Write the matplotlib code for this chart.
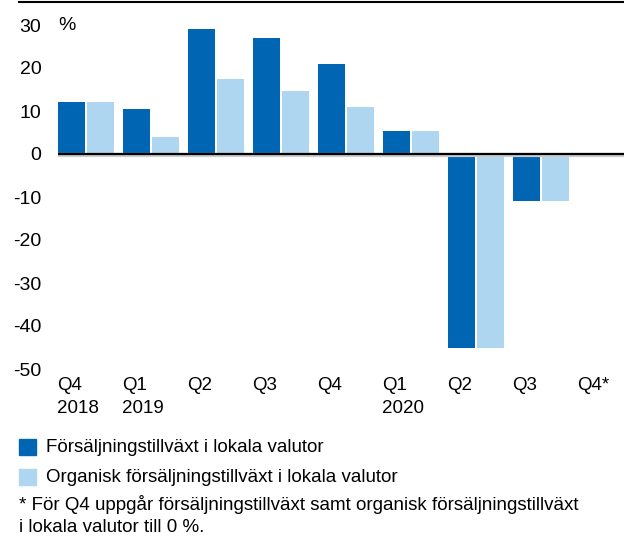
import matplotlib
matplotlib.use('Agg')
import matplotlib.pyplot as plt
from matplotlib.lines import Line2D
from matplotlib.patches import Rectangle

plt.rcParams['font.family'] = ['Liberation Sans', 'DejaVu Sans']

quarters = ['Q4\n2018', 'Q1\n2019', 'Q2', 'Q3', 'Q4', 'Q1\n2020', 'Q2', 'Q3', 'Q4*']
growth = [12, 10.5, 29, 27, 21, 5.3, -45, -11, 0]
organic = [12, 4, 17.4, 14.7, 11, 5.3, -45, -11, 0]
yticks = [30, 20, 10, 0, -10, -20, -30, -40, -50]

dark = '#0066b3'
light = '#afd6f1'
W, H = 624, 545

fig = plt.figure(figsize=(W/100, H/100), dpi=100)
ax = fig.add_axes([58/W, 1-369/H, 1-58/W, (369-25)/H])

bw = 27/65
x = list(range(len(quarters)))
ax.bar([i + bw/2 for i in x], growth, width=bw, color=dark, linewidth=0)
ax.bar([i + 29/65 + bw/2 for i in x], organic, width=bw, color=light, linewidth=0)
ax.axhline(-0.15, color='#cccccc', lw=3, zorder=3)
ax.axhline(0.05, color='black', lw=1.6, zorder=4)

ax.set_xlim(0, (W-58)/65)
ax.set_ylim(-50, 30)
for s in ax.spines.values():
    s.set_visible(False)
ax.set_xticks([])
ax.set_yticks(yticks)
ax.set_yticklabels([str(t) for t in yticks], fontsize=14)
ax.tick_params(axis='y', length=0, pad=12)

ax.text(0, 30, '%', fontsize=14, ha='left', va='center')

for i, q in enumerate(quarters):
    ax.text(i - 0.02, -50 - 8/4.3, q, fontsize=13.5, ha='left', va='top',
            linespacing=1.45)

fig.add_artist(Line2D([19/W, 1], [1-1.5/H, 1-1.5/H], color='black', lw=1.5))

legend_items = [(dark, 'Försäljningstillväxt i lokala valutor', 439),
                (light, 'Organisk försäljningstillväxt i lokala valutor', 469)]
for c, lab, ytop in legend_items:
    fig.add_artist(Rectangle((19/W, 1-(ytop+16)/H), 17/W, 16/H, color=c,
                             transform=fig.transFigure))
    fig.text(46/W, 1-(ytop+8)/H, lab, fontsize=13.5, ha='left', va='center')

fig.text(19/W, 1-504/H, '* För Q4 uppgår försäljningstillväxt samt organisk försäljningstillväxt',
         fontsize=13.5, ha='left', va='center')
fig.text(19/W, 1-528/H, 'i lokala valutor till 0 %.', fontsize=13.5, ha='left', va='center')

fig.savefig('out.png', dpi=100)
